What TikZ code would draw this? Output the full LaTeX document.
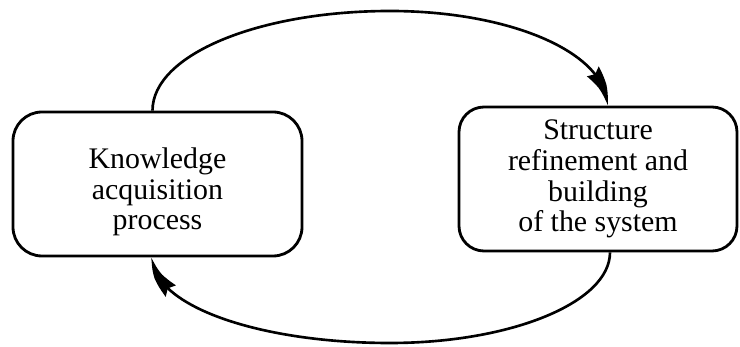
\documentclass[tikz,border=0pt]{standalone}
\usepackage{fontspec}
\setmainfont{Liberation Serif}
\usetikzlibrary{arrows.meta,bending}
\begin{document}
\begin{tikzpicture}[
  box/.style={draw, line width=1.6pt, minimum height=2.88cm, inner sep=0pt},
  boxtext/.style={font=\fontsize{17}{17.5}\selectfont, align=center},
  flow/.style={line width=1.5pt},
  tip/.style={-{Stealth[length=0.72cm,width=0.3cm,inset=0.06cm,bend]}}
]
\useasboundingbox (0,0) rectangle (14.8,-6.94);
\node[box, rounded corners=0.58cm, minimum width=5.78cm,
  label={[boxtext, yshift=-0.16cm, name=kat]center:Knowledge\\acquisition\\process}]
  (kap) at (3.15,-3.68) {};
\node[box, rounded corners=0.5cm, minimum width=5.56cm,
  label={[boxtext, name=srt]center:Structure\\refinement and\\building\\of the system}]
  (srb) at (11.96,-3.58) {};
\coordinate (top) at (7.8,-0.22);
\coordinate (bot) at (7.8,-6.86);
\draw[flow, tip] ([xshift=-0.1cm]kap.north) .. controls +(0,1.12) and +(-2.62,0) .. (top)
  .. controls +(2.40,0) and +(0,1.06) .. ([xshift=0.18cm]srb.north);
\draw[flow, tip] ([xshift=0.24cm]srb.south) .. controls +(0,-1.0) and +(2.42,0) .. (bot)
  .. controls +(-2.62,0) and +(0,-0.97) .. ([xshift=-0.1cm]kap.south);
\end{tikzpicture}
\end{document}
